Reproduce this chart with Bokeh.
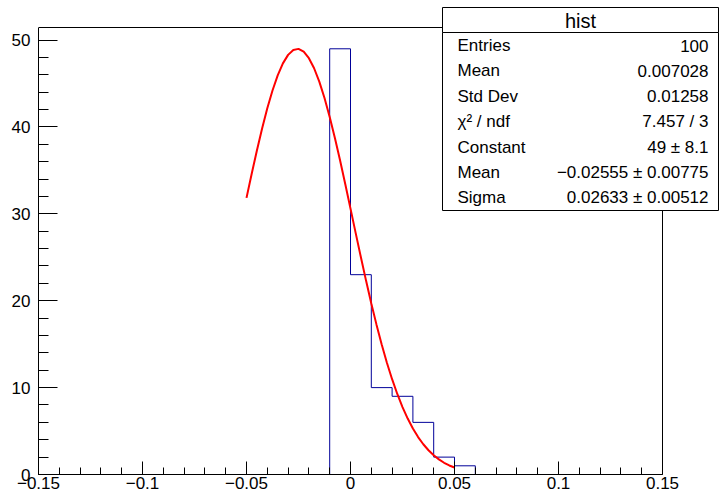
from bokeh.plotting import figure
from bokeh.models import Range1d, FixedTicker, BoxAnnotation, Label
from bokeh.embed import file_html
from bokeh.resources import INLINE

# ---------------- data ----------------
bin_width = 0.01
bin_lo = [-0.01, 0.0, 0.01, 0.02, 0.03, 0.04, 0.05]
counts = [49, 23, 10, 9, 6, 2, 1]

# fitted gaussian curve
fit_x = [-0.0500, -0.0475, -0.0450, -0.0425, -0.0400, -0.0375, -0.0350, -0.0325,
         -0.0300, -0.0275, -0.0250, -0.0225, -0.0200, -0.0175, -0.0150, -0.0125,
         -0.0100, -0.0075, -0.0050, -0.0025, 0.0000, 0.0025, 0.0050, 0.0075,
         0.0100, 0.0125, 0.0150, 0.0175, 0.0200, 0.0225, 0.0250, 0.0275,
         0.0300, 0.0325, 0.0350, 0.0375, 0.0400, 0.0425, 0.0450, 0.0475, 0.0500]
fit_y = [31.84, 34.61, 37.30, 39.83, 42.15, 44.20, 45.94, 47.32,
         48.30, 48.87, 48.99, 48.67, 47.92, 46.76, 45.22, 43.33,
         41.16, 38.74, 36.14, 33.40, 30.60, 27.78, 25.00, 22.29,
         19.69, 17.25, 14.97, 12.87, 10.97, 9.27, 7.76, 6.44,
         5.29, 4.31, 3.48, 2.79, 2.21, 1.74, 1.35, 1.04, 0.80]

x_ticks = [-0.15, -0.1, -0.05, 0.0, 0.05, 0.1, 0.15]
x_tick_labels = ["\u22120.15", "\u22120.1", "\u22120.05", "0", "0.05", "0.1", "0.15"]
y_ticks = [0, 10, 20, 30, 40, 50]

stats_title = "hist"
stat_names = ["Entries", "Mean", "Std Dev", "\u03c7\u00b2 / ndf", "Constant", "Mean", "Sigma"]
stat_values = ["100", "0.007028", "0.01258", "7.457 / 3", "49 \u00b1 8.1",
               "\u22120.02555 \u00b1 0.00775", "0.02633 \u00b1 0.00512"]

# ---------------- layout ----------------
AX_X0, AX_X1 = -0.15, 0.15     # axis extent
AX_Y0, AX_Y1 = 0.0, 51.45
W, H = 719, 495
AL, AR, AT, AB = 38, 662, 27, 474   # axis box in pixels
SX = (AR - AL) / (AX_X1 - AX_X0)    # px per unit
SY = (AB - AT) / (AX_Y1 - AX_Y0)
FL, FR, FT, FB = AL, W, 0, AB       # drawing frame covers the stats box too
X0 = AX_X0
X1 = AX_X0 + (FR - FL) / SX
Y0 = AX_Y0
Y1 = AX_Y0 + (FB - FT) / SY

def dx(px):
    return X0 + (px - FL) / SX

def dy(py):
    return Y0 + (FB - py) / SY

FONT = "Liberation Sans"

p = figure(width=W, height=H, output_backend="svg", toolbar_location=None,
           x_range=Range1d(X0, X1), y_range=Range1d(Y0, Y1),
           min_border_left=FL, min_border_right=0,
           min_border_top=0, min_border_bottom=H - FB)
p.background_fill_color = "white"
p.border_fill_color = "white"
p.outline_line_color = None
p.xgrid.visible = False
p.ygrid.visible = False

# axes
xa = p.xaxis[0]
xa.bounds = (AX_X0, AX_X1)
xa.ticker = FixedTicker(ticks=x_ticks,
                        minor_ticks=[round(AX_X0 + i * 0.01, 2) for i in range(31)])
xa.major_label_overrides = dict(zip(x_ticks, x_tick_labels))
xa.major_tick_in = 13
xa.major_tick_out = 0
xa.minor_tick_in = 7
xa.minor_tick_out = 0
xa.major_label_standoff = 2

ya = p.yaxis[0]
ya.bounds = (AX_Y0, AX_Y1)
ya.ticker = FixedTicker(ticks=y_ticks, minor_ticks=list(range(0, 52, 2)))
ya.major_tick_in = 19
ya.major_tick_out = 0
ya.minor_tick_in = 10
ya.minor_tick_out = 0
ya.major_label_standoff = 8

for ax in (xa, ya):
    ax.axis_line_color = "black"
    ax.major_tick_line_color = "black"
    ax.minor_tick_line_color = "black"
    ax.major_label_text_font = FONT
    ax.major_label_text_font_size = "17px"
    ax.major_label_text_color = "black"

# top and right sides of the axis frame
p.segment(x0=[AX_X0, AX_X1], y0=[AX_Y1, AX_Y0], x1=[AX_X1, AX_X1], y1=[AX_Y1, AX_Y1],
          line_color="black", line_width=1)

# histogram outline
hx = [bin_lo[0]]
hy = [0]
for lo, c in zip(bin_lo, counts):
    hx += [lo, lo + bin_width]
    hy += [c, c]
hx.append(bin_lo[-1] + bin_width)
hy.append(0)
p.line(hx, hy, line_color="#000099", line_width=1)

# fit
p.line(fit_x, fit_y, line_color="#ff0000", line_width=2)

# stats box
p.add_layout(BoxAnnotation(left=dx(442), right=dx(718), top=dy(7), bottom=dy(32),
                           fill_color="white", fill_alpha=1,
                           line_color="black", line_width=1, line_alpha=1))
p.add_layout(BoxAnnotation(left=dx(442), right=dx(718), top=dy(32), bottom=dy(210),
                           fill_color="white", fill_alpha=1,
                           line_color="black", line_width=1, line_alpha=1))
p.add_layout(Label(x=dx(580), y=dy(20), text=stats_title, text_font=FONT,
                   text_font_size="20px", text_align="center", text_baseline="middle",
                   text_color="black"))
row0, step = 45.0, 25.4
for i, (n, v) in enumerate(zip(stat_names, stat_values)):
    yy = dy(row0 + i * step)
    p.add_layout(Label(x=dx(457), y=yy, text=n, text_font=FONT, text_font_size="17px",
                       text_align="left", text_baseline="middle", text_color="black"))
    p.add_layout(Label(x=dx(708), y=yy, text=v, text_font=FONT, text_font_size="17px",
                       text_align="right", text_baseline="middle", text_color="black"))

open("out.html", "w").write(file_html(p, INLINE))
